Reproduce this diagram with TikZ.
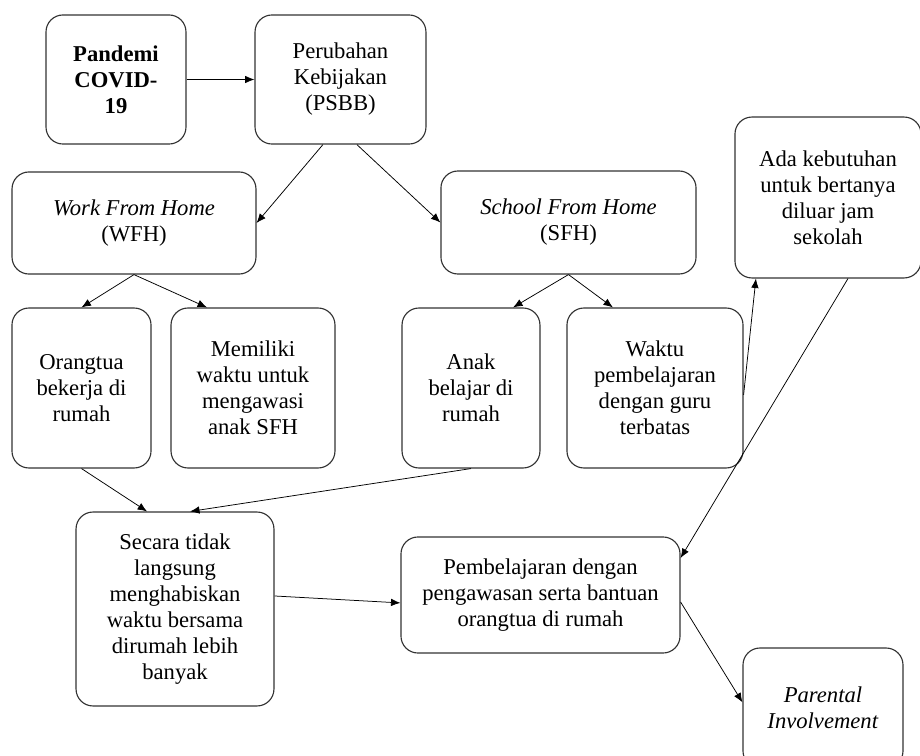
\documentclass[tikz,border=0pt]{standalone}
\usepackage{fontspec}
\setmainfont{Liberation Serif}
\usepackage{tikz}
\usetikzlibrary{arrows.meta}
\tikzset{
flowbox/.style={
  draw=black!80,
  line width=0.6pt,
  rectangle,
  rounded corners=9pt,
  align=center,
  inner sep=0pt,
  font=\fontsize{12}{13.8}\selectfont
},
}

\begin{document}
\begin{tikzpicture}[x=0.53pt,y=-0.53pt,>={Latex[length=5pt,width=4pt]}]
\useasboundingbox (0,0) rectangle (920,756);
% the boxes
\node[flowbox,minimum width=74.2pt,minimum height=68.4pt] (pandemi) at (116,79.5) {\textbf{Pandemi}\\\textbf{COVID-}\\\textbf{19}};
\node[flowbox,minimum width=90.6pt,minimum height=68.4pt] (psbb) at (340.5,79.5) {Perubahan\\Kebijakan\\(PSBB)};
\node[flowbox,minimum width=129.3pt,minimum height=54.1pt] (wfh) at (134,223) {\textit{Work From Home}\\(WFH)};
\node[flowbox,minimum width=135.2pt,minimum height=54.6pt] (sfh) at (568.5,222.5) {\textit{School From Home}\\(SFH)};
\node[flowbox,minimum width=98.6pt,minimum height=85.3pt] (ada) at (828,197.5) {Ada kebutuhan\\untuk bertanya\\diluar jam\\sekolah};
\node[flowbox,minimum width=73.7pt,minimum height=84.8pt] (orangtua) at (81.5,388) {Orangtua\\bekerja di\\rumah};
\node[flowbox,minimum width=86.9pt,minimum height=84.8pt] (memiliki) at (253,388) {Memiliki\\waktu untuk\\mengawasi\\anak SFH};
\node[flowbox,minimum width=73.1pt,minimum height=84.8pt] (anak) at (471,388) {Anak\\belajar di\\rumah};
\node[flowbox,minimum width=93.3pt,minimum height=84.8pt] (waktu) at (655,388) {Waktu\\pembelajaran\\dengan guru\\terbatas};
\node[flowbox,minimum width=104.9pt,minimum height=102.8pt] (secara) at (175,609) {Secara tidak\\langsung\\menghabiskan\\waktu bersama\\dirumah lebih\\banyak};
\node[flowbox,minimum width=147.9pt,minimum height=61.5pt] (belajar) at (540.5,595) {Pembelajaran dengan\\pengawasan serta bantuan\\orangtua di rumah};
\node[flowbox,minimum width=84.8pt,minimum height=63.6pt] (parental) at (823,708) {\textit{Parental}\\\textit{Involvement}};
% the arrows
\draw[->] (pandemi) -- (psbb);
\draw[->] ([xshift=-9.3pt]psbb.south) -- (wfh.east);
\draw[->] ([xshift=8.7pt]psbb.south) -- (sfh.west);
\draw[->] (wfh.south) -- (orangtua.north);
\draw[->] (wfh.south) -- ([xshift=-24.4pt]memiliki.north);
\draw[->] (sfh.south) -- ([xshift=22.3pt]anak.north);
\draw[->] (sfh.south) -- ([xshift=-22.3pt]waktu.north);
\draw[->] (orangtua.south) -- ([xshift=-14.8pt]secara.north);
\draw[->] (anak.south) -- ([xshift=8pt]secara.north);
\draw[->] ([yshift=6.9pt]secara.east) -- ([yshift=-4.2pt]belajar.west);
\draw[->] ([yshift=-3.7pt]waktu.east) -- ([xshift=-38.2pt]ada.south);
\draw[->] ([xshift=10.6pt]ada.south) -- ([yshift=19.6pt]belajar.east);
\draw[->] ([yshift=-3.7pt]belajar.east) -- ([yshift=3pt]parental.west);
\end{tikzpicture}
\end{document}
